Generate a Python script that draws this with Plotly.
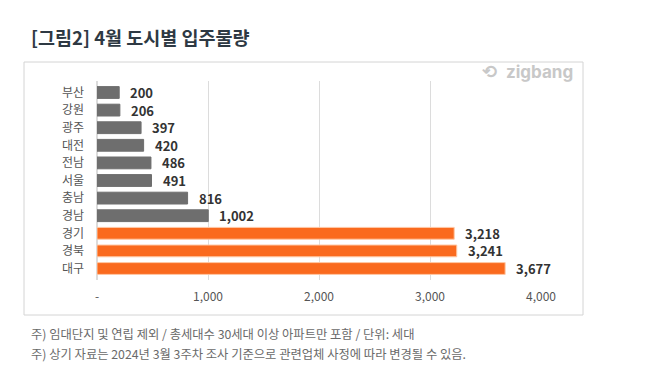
import plotly.graph_objects as go

regions = ["부산", "강원", "광주", "대전", "전남", "서울", "충남", "경남", "경기", "경북", "대구"]
values = [200, 206, 397, 420, 486, 491, 816, 1002, 3218, 3241, 3677]
highlight = [False] * 8 + [True] * 3
tick_vals = [0, 1000, 2000, 3000, 4000]
tick_text = ["-", "1,000", "2,000", "3,000", "4,000"]

title = "[그림2] 4월 도시별 입주물량"
notes = ["주) 임대단지 및 연립 제외 / 총세대수 30세대 이상 아파트만 포함 / 단위: 세대",
         "주) 상기 자료는 2024년 3월 3주차 조사 기준으로 관련업체 사정에 따라 변경될 수 있음."]

W, H = 660, 382
L, R, T, B = 97, 541, 81, 280
pw, ph = R - L, B - T

def px(x):
    return (x - L) / pw

def py(y):
    return (B - y) / ph

FONT = "Noto Sans CJK KR"
GRAY = "#6e6e6e"
ORANGE = "#fa6a1e"

colors = [ORANGE if h else GRAY for h in highlight]
lines = ["#ffc9a6" if h else GRAY for h in highlight]

fig = go.Figure(go.Bar(
    y=regions, x=values, orientation="h",
    marker=dict(color=colors, line=dict(color=lines, width=1)),
    hoverinfo="skip",
))

for r, v in zip(regions, values):
    fig.add_annotation(x=v, y=r, xref="x", yref="y", text=f"<b>{v:,}</b>",
                       showarrow=False, xanchor="left", xshift=9,
                       font=dict(family=FONT, size=13, color="#333333"))

fig.add_annotation(x=px(29), y=py(37), xref="paper", yref="paper", text=f"<b>{title}</b>",
                   showarrow=False, xanchor="left", yanchor="middle",
                   font=dict(family=FONT, size=18.5, color="#2e3943"))
for i, n in enumerate(notes):
    fig.add_annotation(x=px(29), y=py(334 + 20 * i), xref="paper", yref="paper", text=n,
                       showarrow=False, xanchor="left", yanchor="middle",
                       font=dict(family=FONT, size=12.3, color="#6a6a6a"))
fig.add_annotation(x=px(575), y=py(72), xref="paper", yref="paper", text="<b>zigbang</b>",
                   showarrow=False, xanchor="right", yanchor="middle",
                   font=dict(family="Inter", size=17, color="#c8c8c8"))
fig.add_annotation(x=px(489), y=py(72), xref="paper", yref="paper", text="<b>⟲</b>",
                   showarrow=False, xanchor="center", yanchor="middle",
                   font=dict(family="DejaVu Sans", size=18, color="#c8c8c8"))

fig.add_shape(type="rect", xref="paper", yref="paper",
              x0=px(24), x1=px(583), y0=py(315), y1=py(62),
              line=dict(color="#d4d4d4", width=1), fillcolor="rgba(0,0,0,0)", layer="below")

fig.update_layout(
    width=W, height=H,
    margin=dict(l=L, r=W - R, t=T, b=H - B, pad=0),
    paper_bgcolor="white", plot_bgcolor="white",
    bargap=0.33, showlegend=False,
    xaxis=dict(range=[0, 4000], tickvals=tick_vals, ticktext=tick_text,
               showgrid=True, gridcolor="#dcdcdc", gridwidth=1,
               zeroline=True, zerolinecolor="#dcdcdc", showline=False,
               ticks="", ticklabelstandoff=8,
               tickfont=dict(family=FONT, size=12, color="#555555")),
    yaxis=dict(categoryorder="array", categoryarray=regions, autorange="reversed",
               showgrid=False, zeroline=False, showline=False, ticks="",
               ticklabelstandoff=12,
               tickfont=dict(family=FONT, size=12, color="#555555")),
)

fig.write_html("out.html", config={"displayModeBar": False},
               post_script="document.body.style.margin='0';")
